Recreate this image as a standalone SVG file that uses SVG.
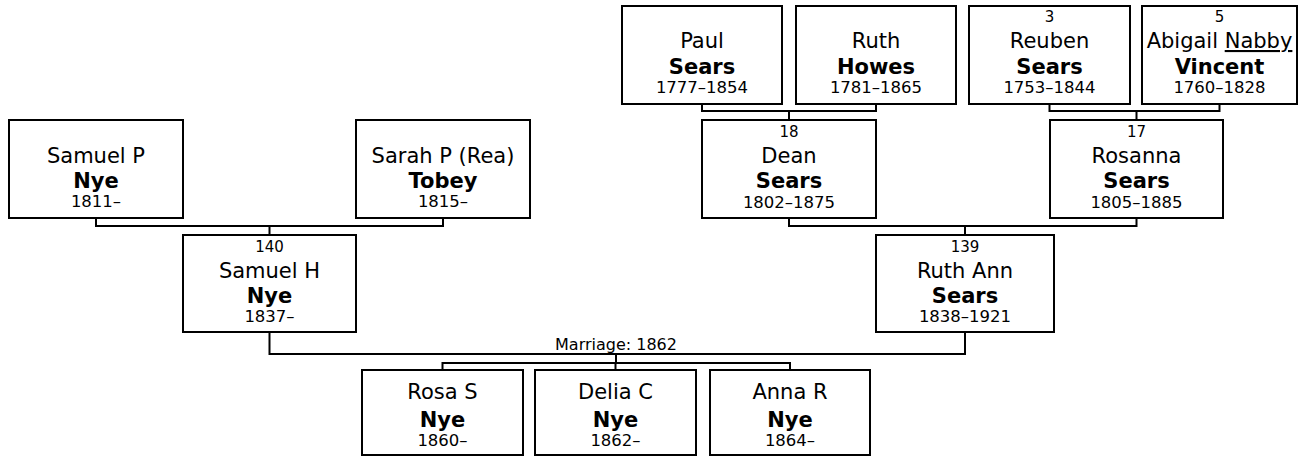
<svg xmlns="http://www.w3.org/2000/svg" width="1302" height="456" viewBox="0 0 1302 456">
<style>
.box{fill:#fff;stroke:#000;stroke-width:2}
.c{fill:none;stroke:#000;stroke-width:2}
text{font-family:"DejaVu Sans","Liberation Sans",sans-serif;fill:#000;text-anchor:middle}
.num{font-size:15px}
.nm{font-size:21px}
.sn{font-size:21px;font-weight:bold}
.yr{font-size:16.5px}
.mr{font-size:16px}
</style>
<rect width="1302" height="456" fill="#fff"/>
<g id="connectors">
<path class="c" d="M96 218 V226 H443 V218 M269.5 226 V235"/>
<path class="c" d="M269.5 332 V354 H965 V332"/>
<path class="c" d="M616 354 V363 M442.5 370 V363 H790 V370 M615.5 363 V370"/>
<path class="c" d="M702 104 V111 H876 V104 M789 111 V120"/>
<path class="c" d="M1049.5 104 V111 H1219.5 V104 M1136.5 111 V120"/>
<path class="c" d="M789 218 V226 H1136.5 V218 M965 226 V235"/>
<text class="mr" x="616" y="350">Marriage: 1862</text>
</g>
<g id="samuelP">
<rect class="box" x="9" y="120" width="174" height="98"/>
<text class="nm" x="96" y="163">Samuel P</text>
<text class="sn" x="96" y="188">Nye</text>
<text class="yr" x="96" y="207">1811–</text>
</g>
<g id="sarahP">
<rect class="box" x="356" y="120" width="174" height="98"/>
<text class="nm" x="443" y="163">Sarah P (Rea)</text>
<text class="sn" x="443" y="188">Tobey</text>
<text class="yr" x="443" y="207">1815–</text>
</g>
<g id="samuelH">
<rect class="box" x="183" y="235" width="173" height="97"/>
<text class="num" x="269.5" y="252">140</text>
<text class="nm" x="269.5" y="278">Samuel H</text>
<text class="sn" x="269.5" y="303">Nye</text>
<text class="yr" x="269.5" y="322">1837–</text>
</g>
<g id="paul">
<rect class="box" x="622" y="6" width="160" height="98"/>
<text class="nm" x="702" y="48">Paul</text>
<text class="sn" x="702" y="74">Sears</text>
<text class="yr" x="702" y="93">1777–1854</text>
</g>
<g id="ruthHowes">
<rect class="box" x="796" y="6" width="160" height="98"/>
<text class="nm" x="876" y="48">Ruth</text>
<text class="sn" x="876" y="74">Howes</text>
<text class="yr" x="876" y="93">1781–1865</text>
</g>
<g id="reuben">
<rect class="box" x="969" y="6" width="161" height="98"/>
<text class="num" x="1049.5" y="22">3</text>
<text class="nm" x="1049.5" y="48">Reuben</text>
<text class="sn" x="1049.5" y="74">Sears</text>
<text class="yr" x="1049.5" y="93">1753–1844</text>
</g>
<g id="abigail">
<rect class="box" x="1142" y="6" width="155" height="98"/>
<text class="num" x="1219.5" y="22">5</text>
<text class="nm" x="1219.5" y="48">Abigail <tspan text-decoration="underline">Nabby</tspan></text>
<text class="sn" x="1219.5" y="74">Vincent</text>
<text class="yr" x="1219.5" y="93">1760–1828</text>
</g>
<g id="dean">
<rect class="box" x="702" y="120" width="174" height="98"/>
<text class="num" x="789" y="137">18</text>
<text class="nm" x="789" y="163">Dean</text>
<text class="sn" x="789" y="188">Sears</text>
<text class="yr" x="789" y="208">1802–1875</text>
</g>
<g id="rosanna">
<rect class="box" x="1050" y="120" width="173" height="98"/>
<text class="num" x="1136.5" y="137">17</text>
<text class="nm" x="1136.5" y="163">Rosanna</text>
<text class="sn" x="1136.5" y="188">Sears</text>
<text class="yr" x="1136.5" y="208">1805–1885</text>
</g>
<g id="ruthAnn">
<rect class="box" x="876" y="235" width="178" height="97"/>
<text class="num" x="965" y="252">139</text>
<text class="nm" x="965" y="278">Ruth Ann</text>
<text class="sn" x="965" y="303">Sears</text>
<text class="yr" x="965" y="322">1838–1921</text>
</g>
<g id="rosaS">
<rect class="box" x="362" y="370" width="161" height="85"/>
<text class="nm" x="442.5" y="399">Rosa S</text>
<text class="sn" x="442.5" y="427">Nye</text>
<text class="yr" x="442.5" y="446">1860–</text>
</g>
<g id="deliaC">
<rect class="box" x="535" y="370" width="161" height="85"/>
<text class="nm" x="615.5" y="399">Delia C</text>
<text class="sn" x="615.5" y="427">Nye</text>
<text class="yr" x="615.5" y="446">1862–</text>
</g>
<g id="annaR">
<rect class="box" x="710" y="370" width="160" height="85"/>
<text class="nm" x="790" y="399">Anna R</text>
<text class="sn" x="790" y="427">Nye</text>
<text class="yr" x="790" y="446">1864–</text>
</g>
</svg>
